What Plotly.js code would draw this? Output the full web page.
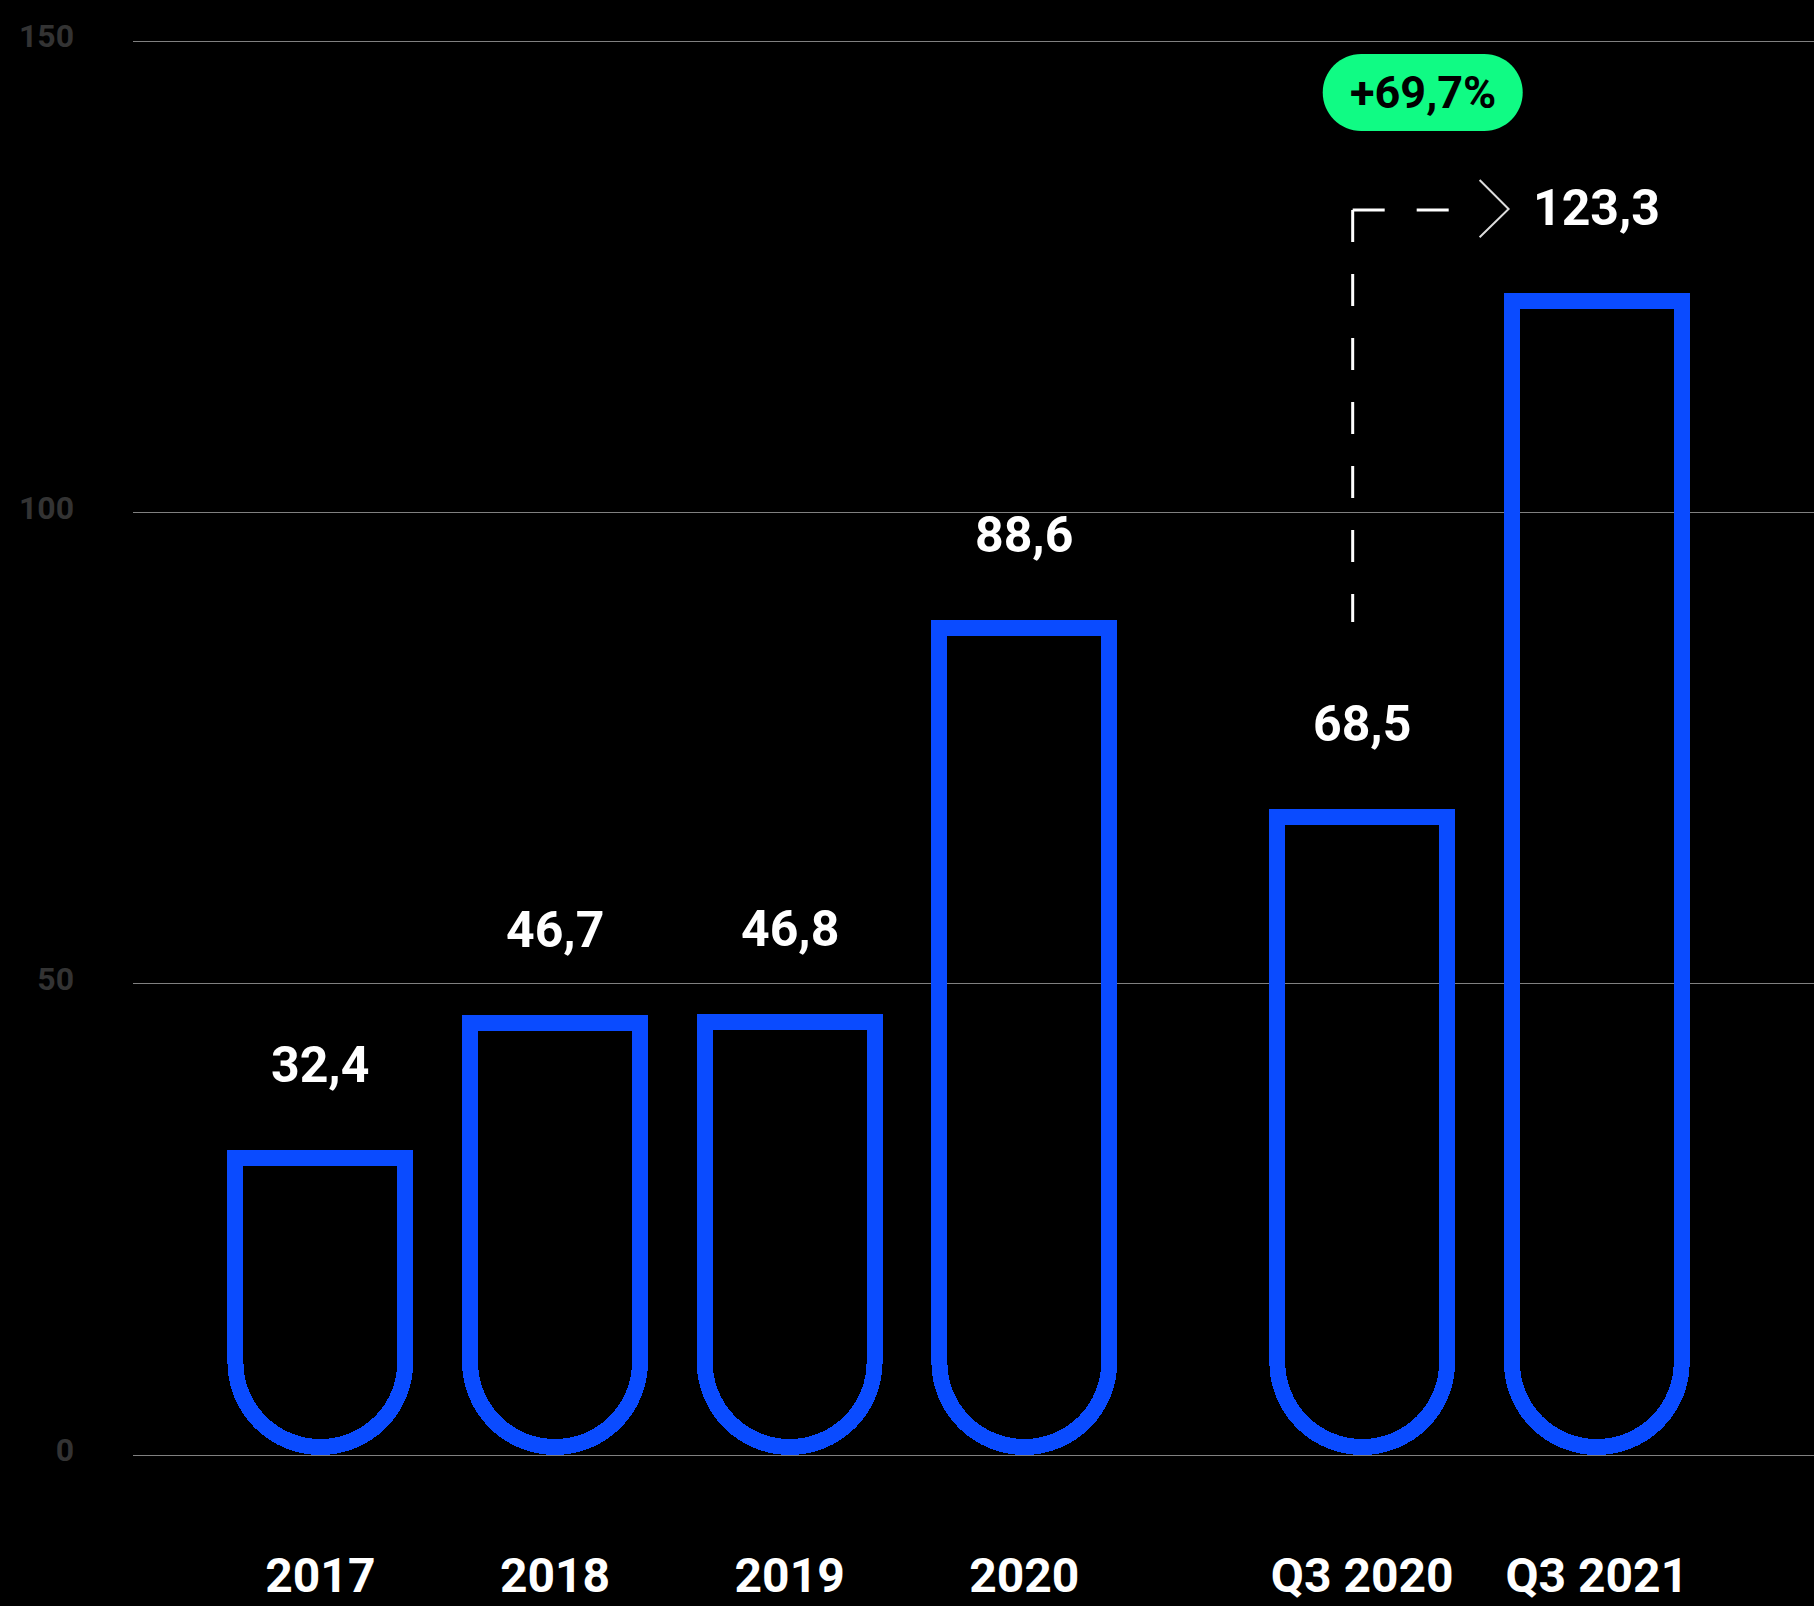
<!DOCTYPE html>
<html>
<head>
<meta charset="utf-8">
<script src="https://cdn.plot.ly/plotly-3.0.1.min.js"></script>
<style>html,body{margin:0;padding:0;background:#000;}#chart{width:1814px;height:1606px;}</style>
</head>
<body>
<div id="chart"></div>
<script>
// ---- data ----
const categories = ['2017', '2018', '2019', '2020', 'Q3 2020', 'Q3 2021'];
const xSlots = [0, 1, 2, 3, 4.44, 5.44];
const values = [32.4, 46.7, 46.8, 88.6, 68.5, 123.3];
const yTicks = [0, 50, 100, 150];
const growthLabel = '+69,7%';

// ---- style ----
const W = 1814, H = 1606;
const margin = {l: 133, r: 0, t: 0, b: 151};
const yTop = 154.35;
const xRange = [-0.7985, 6.3655];
const blue = '#0a4bff';
const strokeW = 16;
const plotH = H - margin.t - margin.b;
const pxPerUnit = plotH / yTop;
const inset = (strokeW / 2) / pxPerUnit;
const font = 'Roboto, "Liberation Sans", sans-serif';
const fmt = v => v.toFixed(1).replace('.', ',');

// Bars hang from their value level down to zero on a reversed overlay axis,
// so that the rounded tip of each bar sits at the baseline.
const spacer = {
  type: 'bar', yaxis: 'y2',
  x: xSlots,
  y: values.map(v => yTop - v + inset),
  width: 0.724,
  marker: {color: 'rgba(0,0,0,0)', line: {width: 0}},
  hoverinfo: 'skip', showlegend: false
};
const bars = {
  type: 'bar', yaxis: 'y2',
  x: xSlots,
  y: values.map(v => v - 2 * inset),
  width: 0.724,
  marker: {
    color: 'rgba(0,0,0,0)',
    line: {color: blue, width: strokeW},
    cornerradius: '50%'
  },
  hoverinfo: 'skip', showlegend: false
};

const annotations = values.map((v, i) => ({
  x: xSlots[i], y: v, xref: 'x', yref: 'y',
  text: fmt(v), showarrow: false,
  xanchor: 'center', yanchor: 'bottom', yshift: 54,
  font: {family: font, size: 50, color: '#ffffff', weight: 700}
}));

// growth pill text
const pillX = 4.698, pillY = 144.53;
annotations.push({
  x: pillX, y: pillY, xref: 'x', yref: 'y', text: growthLabel, showarrow: false,
  xanchor: 'center', yanchor: 'middle',
  font: {family: font, size: 45, color: '#000000', weight: 700}
});

const r = 38.5, hw = 61.5, k = 0.5523 * 38.5;
const pillPath = `M ${-hw},${-r} L ${hw},${-r} C ${hw + k},${-r} ${hw + r},${-k} ${hw + r},0 ` +
  `C ${hw + r},${k} ${hw + k},${r} ${hw},${r} L ${-hw},${r} C ${-hw - k},${r} ${-hw - r},${k} ${-hw - r},0 ` +
  `C ${-hw - r},${-k} ${-hw - k},${-r} ${-hw},${-r} Z`;

const connX = 4.3995, connTop = 132.07, connBottom = 88.36, connRight = 4.8126;
const shapes = [
  {type: 'path', xref: 'x', yref: 'y', xsizemode: 'pixel', ysizemode: 'pixel',
   xanchor: pillX, yanchor: pillY, path: pillPath,
   fillcolor: '#10fb84', line: {width: 0}, layer: 'above'},
  {type: 'line', xref: 'x', yref: 'y', x0: connX, x1: connX, y0: connTop, y1: connBottom,
   line: {color: '#ffffff', width: 3, dash: '32px,32px'}},
  {type: 'line', xref: 'x', yref: 'y', x0: connX, x1: connRight, y0: connTop, y1: connTop,
   line: {color: '#ffffff', width: 3, dash: '32px,32px'}},
  {type: 'path', xref: 'x', yref: 'y',
   path: 'M 4.9404,135.25 L 5.0639,132.17 L 4.9404,129.19',
   line: {color: '#dddddd', width: 2}}
];

const layout = {
  width: W, height: H,
  margin: margin,
  paper_bgcolor: '#000000',
  plot_bgcolor: '#000000',
  showlegend: false,
  barmode: 'stack',
  xaxis: {
    range: xRange, showgrid: false, zeroline: false, showline: false,
    tickmode: 'array', tickvals: xSlots, ticktext: categories, ticks: '',
    ticklabelstandoff: 88,
    tickfont: {family: font, size: 48, color: '#ffffff', weight: 700},
    fixedrange: true
  },
  yaxis: {
    range: [0, yTop], showgrid: true, gridcolor: '#808080', gridwidth: 1,
    zeroline: true, zerolinecolor: '#808080', zerolinewidth: 1, showline: false,
    tickmode: 'array', tickvals: yTicks, ticktext: yTicks.map(String), ticks: '',
    ticklabelstandoff: 58, ticklabelshift: -5,
    tickfont: {family: font, size: 32, color: '#333333', weight: 700},
    fixedrange: true
  },
  yaxis2: {
    overlaying: 'y', range: [yTop, 0], visible: false,
    showgrid: false, zeroline: false, fixedrange: true
  },
  annotations: annotations,
  shapes: shapes
};

Plotly.newPlot('chart', [spacer, bars], layout, {displayModeBar: false, staticPlot: true});
</script>
</body>
</html>
